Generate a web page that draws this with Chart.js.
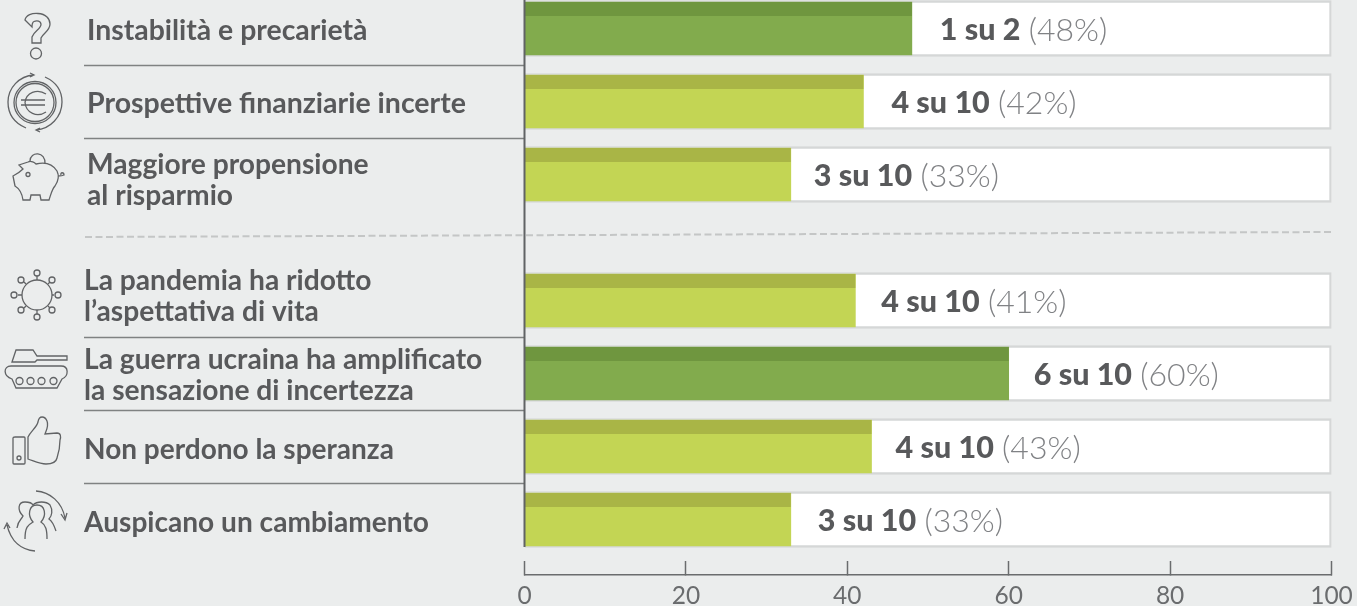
<!DOCTYPE html>
<html>
<head>
<meta charset="utf-8">
<script src="https://cdn.jsdelivr.net/npm/chart.js@4"></script>
<style>
html, body { margin: 0; padding: 0; background: #ebeded; }
#wrap { position: relative; width: 1357px; height: 606px; }
#myChart { display: block; }
</style>
</head>
<body>
<div id="wrap"><canvas id="myChart"></canvas></div>
<script>
const categories = [
    "Instabilità e precarietà",
    "Prospettive finanziarie incerte",
    "Maggiore propensione\nal risparmio",
    "La pandemia ha ridotto\nl’aspettativa di vita",
    "La guerra ucraina ha amplificato\nla sensazione di incertezza",
    "Non perdono la speranza",
    "Auspicano un cambiamento"
];
const values = [48, 42, 33, 41, 60, 43, 33];
const fractions = ["1 su 2", "4 su 10", "3 su 10", "4 su 10", "6 su 10", "4 su 10", "3 su 10"];
const full = [100, 100, 100, 100, 100, 100, 100];
const xTicks = [0, 20, 40, 60, 80, 100];

// the first three rows and the last four are split by a gap
const groupGap = 0.726;
const rows = categories.map((c, i) => i + (i >= 3 ? groupGap : 0));

const labelGap = [28, 28, 23, 26, 25, 24, 27];
const textLeft = [87, 87, 87, 84, 84, 84, 84];
const textShift = [0, 0, 4, -6, 0, 1, 1];
const textSize = [28.4, 28.5, 28.2, 28.2, 28.2, 28, 28.1];

const textColor = "#58595b";
const icons = [
    ["M25 20C26 15 32 13 38 13.5C46 14 50 19 50 24C50 31 43 33 41 38L41 43L32 43L32 37C34 31 41 29 41 24.5C41 21 37 20 34 21.5C32 22.5 32 25 32 27Z",
     "M41.5 53.5a5.5 5.5 0 1 1 -11 0a5.5 5.5 0 1 1 11 0"],
    ["M56 102.5a21 21 0 1 1 -42 0a21 21 0 1 1 42 0",
     "M54 102.5a19 19 0 1 1 -38 0a19 19 0 1 1 38 0",
     "M46 94C37 88 26 93 25 102.5C26 113 37 118 46 112",
     "M21 100L45 100M21 105L45 105",
     "M26 128C12 122 8 112 8 102C8 88 19 76 34 75M30 73L34 75L30 77",
     "M45 77C56 82 62 91 62 102C62 117 50 129 36 130M40 128L36 130L40 132"],
    ["M28 162C31 160 35 163 36 164C44 162 52 163 57 171C59 175 59 180 55 186C52 189 51 194 49 200L41 200L40 195L31 195L30 200L23 200C22 193 20 189 15 186L13 176C17 174 20 172 23 169L19 165Z",
     "M30 161C30 151 46 151 45 164",
     "M30 174.5a2 2 0 1 1 -4 0a2 2 0 1 1 4 0",
     "M58 176C60 176 62 176 64 175C64 172 60 172 61 175"],
    ["M52 295a15 15 0 1 1 -30 0a15 15 0 1 1 30 0",
     "M37 280L37 276M37 310L37 314M22 295L18 295M52 295L54 295M26 284L24 282M48 284L50 282M26 306L24 308M48 306L50 308",
     "M40 273a3 3 0 1 1 -6 0a3 3 0 1 1 6 0", "M40 317a3 3 0 1 1 -6 0a3 3 0 1 1 6 0",
     "M17 295a3 3 0 1 1 -6 0a3 3 0 1 1 6 0", "M61 295a3 3 0 1 1 -6 0a3 3 0 1 1 6 0",
     "M24 280a3 3 0 1 1 -6 0a3 3 0 1 1 6 0", "M55 280a3 3 0 1 1 -6 0a3 3 0 1 1 6 0",
     "M24 310a3 3 0 1 1 -6 0a3 3 0 1 1 6 0", "M55 310a3 3 0 1 1 -6 0a3 3 0 1 1 6 0"],
    ["M12 362L16 350L33 350L37 356L67 356L67 360L37 360L35 362Z",
     "M11 366L61 366C69 366 69 376 62 379L57 388L16 388L12 379C3 376 3 366 11 366Z",
     "M23 381a3.5 3.5 0 1 1 -7 0a3.5 3.5 0 1 1 7 0", "M34 381a3.5 3.5 0 1 1 -7 0a3.5 3.5 0 1 1 7 0",
     "M45 381a3.5 3.5 0 1 1 -7 0a3.5 3.5 0 1 1 7 0", "M57 381a3.5 3.5 0 1 1 -7 0a3.5 3.5 0 1 1 7 0"],
    ["M15 437L24 437Q25 437 25 438L25 463Q25 464 24 464L14 464Q13 464 13 463L13 438Q13 437 15 437Z",
     "M21 458a2 2 0 1 1 -4 0a2 2 0 1 1 4 0",
     "M28 437C31 431 37 427 38 422C39 415 45 416 47 421C49 426 46 431 45 434L57 433C61 433 61 437 60 440C60 445 59 452 57 458C56 463 52 464 46 464C40 464 34 461 28 459Z"],
    ["M25 539C25 527 28 525 33 522C27 515 29 505 37 505C45 505 47 515 41 522C46 525 47 530 47 539",
     "M17 528C18 520 22 519 23 516C17 510 18 502 25 502C29 502 32 503 33 505C37 501 46 501 50 505C53 510 52 516 49 519C52 521 54 525 56 531",
     "M36 491C50 492 62 502 65 518M61 514L65 520L67 513",
     "M35 551C22 550 11 542 7 525M4 529L7 523L10 528"]
];

Chart.defaults.font.family = "Lato";

function rowY(scale, i) {
    return scale.getPixelForValue(rows[i]);
}

// top strip on each bar, the tracks' text, the left column
const decorations = {
    id: "decorations",
    beforeDatasetsDraw(chart) {
        const ctx = chart.ctx, x = chart.scales.x, y = chart.scales.y;
        const left = x.getPixelForValue(0);
        ctx.save();
        ctx.strokeStyle = "#7f8282";
        ctx.lineWidth = 1.5;
        [0, 1, 3, 4, 5].forEach((i) => {
            const py = Math.round(rowY(y, i) + 36.5) + 0.5;
            ctx.beginPath();
            ctx.moveTo(84, py);
            ctx.lineTo(left, py);
            ctx.stroke();
        });
        ctx.restore();
    },
    afterDatasetsDraw(chart) {
        const ctx = chart.ctx, x = chart.scales.x, y = chart.scales.y;
        const meta = chart.getDatasetMeta(1);
        const left = x.getPixelForValue(0);
        ctx.save();
        meta.data.forEach((bar, i) => {
            const top = bar.y - bar.height / 2;
            ctx.fillStyle = values[i] >= 48 ? "#6f963f" : "#a9b546";
            ctx.fillRect(left, top, bar.x - left, 14);

            const cy = rowY(y, i) + 2;
            ctx.textBaseline = "middle";
            ctx.textAlign = "left";
            ctx.font = "900 30.5px Lato";
            ctx.fillStyle = textColor;
            const tx = bar.x + labelGap[i];
            ctx.fillText(fractions[i], tx, cy);
            const w = ctx.measureText(fractions[i] + " ").width;
            ctx.font = "300 32px Lato";
            ctx.fillStyle = "#808285";
            ctx.fillText("(" + values[i] + "%)", tx + w + 1, cy);
        });

        // left column
        ctx.fillStyle = textColor;
        categories.forEach((c, i) => {
            const lines = c.split("\n");
            const cy = rowY(y, i) + 2 + textShift[i];
            ctx.font = "700 " + textSize[i] + "px Lato";
            lines.forEach((l, k) => {
                ctx.fillText(l, textLeft[i], cy + (k - (lines.length - 1) / 2) * 31.5);
            });
        });

        // y axis stops at the last bar
        ctx.strokeStyle = "#606365";
        ctx.lineWidth = 2;
        ctx.beginPath();
        ctx.moveTo(left, 0);
        ctx.lineTo(left, rowY(y, 6) + 27.5);
        ctx.stroke();

        // dashed divider between the two groups
        ctx.strokeStyle = "#c4c6c6";
        ctx.lineWidth = 2;
        ctx.setLineDash([7, 3.5]);
        ctx.beginPath();
        ctx.moveTo(85, 237);
        ctx.lineTo(x.getPixelForValue(100), 232);
        ctx.stroke();
        ctx.setLineDash([]);

        // icons
        ctx.strokeStyle = "#616365";
        ctx.lineWidth = 1.3;
        icons.forEach((paths) => paths.forEach((d) => ctx.stroke(new Path2D(d))));
        ctx.restore();
    }
};

const chart = new Chart(document.getElementById("myChart"), {
    type: "bar",
    plugins: [decorations],
    data: {
        labels: categories,
        datasets: [
            {
                data: full.map((v, i) => ({ x: v, y: rows[i] })),
                backgroundColor: "#ffffff",
                borderColor: "#d5d7d7",
                borderWidth: 2.5,
                borderSkipped: false,
                barThickness: 56,
                grouped: false,
                order: 2
            },
            {
                data: values.map((v, i) => ({ x: v, y: rows[i] })),
                backgroundColor: values.map((v) => v >= 48 ? "#82ab4d" : "#c3d554"),
                borderWidth: 0,
                barThickness: 53,
                grouped: false,
                order: 1
            }
        ]
    },
    options: {
        indexAxis: "y",
        responsive: true,
        maintainAspectRatio: false,
        animation: false,
        layout: { padding: { left: 524.5, right: 25.5, top: 0, bottom: 0 } },
        plugins: { legend: { display: false }, tooltip: { enabled: false } },
        scales: {
            x: {
                type: "linear",
                min: 0,
                max: 100,
                afterBuildTicks(scale) { scale.ticks = xTicks.map((v) => ({ value: v })); },
                afterFit(scale) {
                    scale.height = 31;
                    scale.paddingLeft = 0;
                    scale.paddingRight = 0;
                },
                border: { color: "#6a6c6e", width: 1.5 },
                grid: { drawOnChartArea: false, tickLength: -14, color: "#6a6c6e", tickWidth: 1.5 },
                ticks: {
                    padding: 20,
                    color: "#6a6c6e",
                    font: { size: 24.5 },
                    maxRotation: 0,
                    autoSkip: false
                }
            },
            y: {
                type: "linear",
                reverse: true,
                display: false,
                offset: false,
                min: -28.5 / 73,
                max: (575 - 28.5) / 73
            }
        }
    }
});
</script>
</body>
</html>
